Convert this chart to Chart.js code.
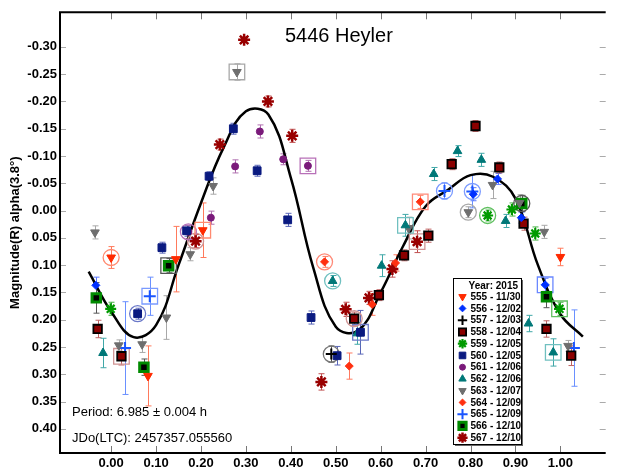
<!DOCTYPE html>
<html>
<head>
<meta charset="utf-8">
<script src="https://cdn.jsdelivr.net/npm/chart.js@4.4.0/dist/chart.umd.min.js"></script>
<style>
  html, body { margin: 0; padding: 0; background: #fff; }
  #wrap { width: 618px; height: 473px; position: relative; }
</style>
</head>
<body>
<div id="wrap"><canvas id="lc"></canvas></div>
<script>
// Curva de luz 5446 Heyler - fase vs magnitud
const chartTitle = '5446 Heyler';
const periodText = 'Period: 6.985 ± 0.004 h';
const epochText = 'JDo(LTC): 2457357.055560';
const legendTitle = 'Year: 2015';
const yTitle = 'Magnitude(R) alpha(3.8°)';

const xTicks = [0.00, 0.10, 0.20, 0.30, 0.40, 0.50, 0.60, 0.70, 0.80, 0.90, 1.00];
const yTicks = [-0.30, -0.25, -0.20, -0.15, -0.10, -0.05, 0.00, 0.05, 0.10, 0.15, 0.20, 0.25, 0.30, 0.35, 0.40];

// curva ajustada (Fourier)
const fitPhase = [-0.05, 0.00, 0.05, 0.10, 0.15, 0.20, 0.25, 0.30, 0.35, 0.40, 0.45, 0.50, 0.55, 0.60, 0.65, 0.70, 0.75, 0.80, 0.85, 0.90, 0.95, 1.00, 1.05];
const fitMag   = [0.112, 0.185, 0.232, 0.210, 0.100, -0.014, -0.115, -0.182, -0.176, -0.060, 0.105, 0.213, 0.220, 0.150, 0.065, -0.008, -0.038, -0.065, -0.062, -0.022, 0.100, 0.190, 0.231];

// sesiones: fase, magnitud, error, marco ('c' circulo, 's' cuadrado)
const phase555 = [0.000, 0.082, 0.144, 0.204, 1.000];
const mag555   = [0.086, 0.303, 0.089, 0.036, 0.085];
const err555   = [0.020, 0.055, 0.060, 0.050, 0.016];
const ring555  = ['c', '', '', 's', ''];

const phase556 = [-0.034, 0.806, 0.860, 0.913, 0.966];
const mag556   = [0.137, -0.030, -0.058, 0.013, 0.136];
const err556   = [0.015, 0.012, 0.010, 0.010, 0.012];
const ring556  = ['', '', '', '', 's'];

const phase557 = [0.490];
const mag557   = [0.263];
const err557   = [0.015];
const ring557  = ['c'];

const phase558 = [-0.030, 0.023, 0.541, 0.596, 0.652, 0.706, 0.758, 0.811, 0.864, 0.918, 0.969, 1.024];
const mag558   = [0.217, 0.267, 0.198, 0.155, 0.082, 0.046, -0.085, -0.155, -0.079, 0.024, 0.217, 0.266];
const err558   = [0.016, 0.016, 0.012, 0.010, 0.010, 0.012, 0.010, 0.010, 0.010, 0.012, 0.015, 0.018];
const ring558  = ['', 's', 'c', '', '', '', '', '', '', '', '', ''];

const phase559 = [-0.001, 0.838, 0.892, 0.944, 0.998];
const mag559   = [0.180, 0.009, -0.002, 0.042, 0.180];
const err559   = [0.012, 0.010, 0.012, 0.012, 0.012];
const ring559  = ['', 'c', '', '', 's'];

const phase560 = [0.059, 0.113, 0.168, 0.218, 0.272, 0.325, 0.393, 0.445, 0.503, 0.555];
const mag560   = [0.189, 0.068, 0.037, -0.063, -0.150, -0.073, 0.017, 0.196, 0.266, 0.223];
const err560   = [0.010, 0.010, 0.010, 0.008, 0.010, 0.010, 0.012, 0.012, 0.017, 0.040];
const ring560  = ['c', '', '', '', '', '', '', '', '', 's'];

const phase561 = [0.172, 0.222, 0.276, 0.331, 0.383, 0.438];
const mag561   = [0.039, 0.013, -0.081, -0.145, -0.094, -0.082];
const err561   = [0.012, 0.012, 0.012, 0.012, 0.010, 0.010];
const ring561  = ['c', '', '', '', '', 's'];

const phase562 = [-0.018, 0.493, 0.548, 0.602, 0.655, 0.718, 0.771, 0.824, 0.878, 0.929, 0.984];
const mag562   = [0.261, 0.129, 0.225, 0.101, 0.027, -0.067, -0.109, -0.093, 0.019, 0.207, 0.260];
const err562   = [0.027, 0.010, 0.020, 0.020, 0.020, 0.012, 0.010, 0.012, 0.012, 0.015, 0.025];
const ring562  = ['', 'c', '', '', 's', '', '', '', '', '', 's'];

const phase563 = [-0.036, 0.017, 0.069, 0.123, 0.176, 0.227, 0.280, 0.662, 0.795, 0.849, 0.909, 0.964, 1.017];
const mag563   = [0.040, 0.247, 0.245, 0.196, 0.080, -0.045, -0.254, 0.032, 0.003, -0.047, -0.014, 0.039, 0.248];
const err563   = [0.012, 0.010, 0.015, 0.040, 0.012, 0.015, 0.015, 0.020, 0.010, 0.025, 0.015, 0.012, 0.010];
const ring563  = ['', '', '', '', '', '', 's', '', 'c', '', '', '', ''];

const phase564 = [0.475, 0.530, 0.581, 0.633, 0.688];
const mag564   = [0.094, 0.285, 0.172, 0.096, -0.016];
const err564   = [0.010, 0.024, 0.020, 0.015, 0.012];
const ring564  = ['c', '', '', '', 's'];

const phase565 = [0.031, 0.086, 0.742, 0.804, 1.030];
const mag565   = [0.252, 0.157, -0.036, -0.035, 0.252];
const err565   = [0.085, 0.035, 0.015, 0.030, 0.070];
const ring565  = ['', 's', 'c', 'c', ''];

const phase566 = [-0.033, 0.073, 0.128, 0.914, 0.969];
const mag566   = [0.160, 0.287, 0.101, -0.013, 0.158];
const err566   = [0.028, 0.015, 0.013, 0.015, 0.020];
const ring566  = ['', '', 's', 'c', ''];

const phase567 = [0.188, 0.242, 0.296, 0.349, 0.403, 0.468, 0.522, 0.574, 0.626, 0.681];
const mag567   = [0.056, -0.121, -0.313, -0.200, -0.137, 0.314, 0.181, 0.160, 0.107, 0.057];
const err567   = [0.012, 0.010, 0.005, 0.010, 0.012, 0.015, 0.013, 0.012, 0.015, 0.020];
const ring567  = ['c', '', '', '', '', '', '', '', '', 's'];

const sessionLabels = ['555 - 11/30', '556 - 12/02', '557 - 12/03', '558 - 12/04', '559 - 12/05', '560 - 12/05', '561 - 12/06',
                       '562 - 12/06', '563 - 12/07', '564 - 12/09', '565 - 12/09', '566 - 12/10', '567 - 12/10'];

// estilos de cada sesion
const series = [
    { phase: phase555, mag: mag555, err: err555, ring: ring555, shape: 'triangle', rot: 180, r: 5, fill: '#ff2a00', line: '#ff2a00', bw: 1, bar: '#ff7a5c', ringC: '#ff8a70' },
    { phase: phase556, mag: mag556, err: err556, ring: ring556, shape: 'rectRot', rot: 0, r: 4, fill: '#0030ff', line: '#0030ff', bw: 1, bar: '#5a78ff', ringC: '#6a88ff' },
    { phase: phase557, mag: mag557, err: err557, ring: ring557, shape: 'cross', rot: 0, r: 5.5, fill: '#000', line: '#000', bw: 2, bar: '#555', ringC: '#777' },
    { phase: phase558, mag: mag558, err: err558, ring: ring558, shape: 'rect', rot: 0, r: 6, fill: '#8b0000', line: '#000', bw: 1.8, bar: '#c06464', ringC: '#d09494' },
    { phase: phase559, mag: mag559, err: err559, ring: ring559, shape: 'star', rot: 0, r: 5.5, fill: '#009a00', line: '#009a00', bw: 2.2, bar: '#45b045', ringC: '#60c060' },
    { phase: phase560, mag: mag560, err: err560, ring: ring560, shape: 'rect', rot: 0, r: 5.5, fill: '#0a1a80', line: '#0a1a80', bw: 1, bar: '#5a66b8', ringC: '#6a78c8' },
    { phase: phase561, mag: mag561, err: err561, ring: ring561, shape: 'circle', rot: 0, r: 3.5, fill: '#7a1a7a', line: '#7a1a7a', bw: 1, bar: '#b070b0', ringC: '#b870b8' },
    { phase: phase562, mag: mag562, err: err562, ring: ring562, shape: 'triangle', rot: 0, r: 5, fill: '#007878', line: '#007878', bw: 1, bar: '#40a8a8', ringC: '#70c0c0' },
    { phase: phase563, mag: mag563, err: err563, ring: ring563, shape: 'triangle', rot: 180, r: 5, fill: '#6e6e6e', line: '#6e6e6e', bw: 1, bar: '#a8a8a8', ringC: '#a8a8a8' },
    { phase: phase564, mag: mag564, err: err564, ring: ring564, shape: 'rectRot', rot: 0, r: 4, fill: '#ff3010', line: '#ff3010', bw: 1, bar: '#ff7a60', ringC: '#ff8a78' },
    { phase: phase565, mag: mag565, err: err565, ring: ring565, shape: 'cross', rot: 0, r: 6, fill: '#1a55ff', line: '#1a55ff', bw: 2, bar: '#6a90ff', ringC: '#7a9aff' },
    { phase: phase566, mag: mag566, err: err566, ring: ring566, shape: 'rect', rot: 0, r: 6, fill: '#000', line: '#008a00', bw: 3, bar: '#555', ringC: '#555' },
    { phase: phase567, mag: mag567, err: err567, ring: ring567, shape: 'star', rot: 0, r: 6, fill: '#990000', line: '#990000', bw: 2.5, bar: '#c05050', ringC: '#d09494' },
];

Chart.defaults.font.family = '"Liberation Sans", Arial, sans-serif';
Chart.defaults.color = '#000';

const datasets = [];

datasets.push({
    type: 'line',
    label: 'fit',
    data: fitPhase.map((p, i) => ({ x: p, y: fitMag[i] })),
    borderColor: '#000',
    borderWidth: 2.5,
    pointRadius: 0,
    fill: false,
    tension: 0.4,
    order: 3,
});

series.forEach((s, k) => {
    // marcos alrededor de algunos puntos
    const ringPts = [];
    const ringStyles = [];
    s.ring.forEach((r, i) => {
        if (r) {
            ringPts.push({ x: s.phase[i], y: s.mag[i] });
            ringStyles.push(r === 'c' ? 'circle' : 'rect');
        }
    });
    datasets.push({
        label: 'ring' + k,
        data: ringPts,
        pointStyle: ringStyles,
        pointRadius: ringStyles.map(st => st === 'circle' ? 8 : 11),
        backgroundColor: 'rgba(255,255,255,0)',
        borderColor: s.ringC,
        borderWidth: 1.3,
        order: 2,
    });
    datasets.push({
        label: sessionLabels[k],
        data: s.phase.map((p, i) => ({ x: p, y: s.mag[i] })),
        pointStyle: s.shape,
        rotation: s.rot,
        pointRadius: s.r,
        backgroundColor: s.fill,
        borderColor: s.line,
        borderWidth: s.bw,
        order: 1,
    });
});

// barras de error
const errorBars = {
    id: 'errorBars',
    beforeDatasetsDraw(chart) {
        const { ctx, scales: { x, y } } = chart;
        ctx.save();
        ctx.lineWidth = 1;
        series.forEach(s => {
            ctx.strokeStyle = s.bar;
            s.phase.forEach((p, i) => {
                const px = Math.round(x.getPixelForValue(p)) + 0.5;
                const y1 = y.getPixelForValue(s.mag[i] - s.err[i]);
                const y2 = y.getPixelForValue(s.mag[i] + s.err[i]);
                ctx.beginPath();
                ctx.moveTo(px, y1); ctx.lineTo(px, y2);
                ctx.moveTo(px - 3, y1); ctx.lineTo(px + 3, y1);
                ctx.moveTo(px - 3, y2); ctx.lineTo(px + 3, y2);
                ctx.stroke();
            });
        });
        ctx.restore();
    }
};

// marco, ticks hacia dentro, textos y leyenda
const decorations = {
    id: 'decorations',
    afterDraw(chart) {
        const { ctx, chartArea: a, scales: { x, y } } = chart;
        ctx.save();

        ctx.strokeStyle = '#777';
        ctx.lineWidth = 1;
        xTicks.forEach(v => {
            const px = Math.round(x.getPixelForValue(v)) + 0.5;
            ctx.beginPath();
            ctx.moveTo(px, a.top); ctx.lineTo(px, a.top + 7);
            ctx.moveTo(px, a.bottom); ctx.lineTo(px, a.bottom - 7);
            ctx.stroke();
        });
        ctx.strokeStyle = '#aaa';
        yTicks.forEach(v => {
            const py = Math.round(y.getPixelForValue(v)) + 0.5;
            ctx.beginPath();
            ctx.moveTo(a.left, py); ctx.lineTo(a.left + 6, py);
            ctx.moveTo(a.right, py); ctx.lineTo(a.right - 6, py);
            ctx.stroke();
        });

        ctx.strokeStyle = '#000';
        ctx.lineWidth = 2;
        ctx.beginPath();
        ctx.moveTo(a.right, a.top); ctx.lineTo(a.left, a.top);
        ctx.lineTo(a.left, a.bottom); ctx.lineTo(a.right, a.bottom);
        ctx.stroke();

        ctx.fillStyle = '#000';
        ctx.textBaseline = 'alphabetic';
        ctx.textAlign = 'left';
        ctx.font = '20px "Liberation Sans", Arial, sans-serif';
        ctx.fillText(chartTitle, 285, 42);
        ctx.font = '13px "Liberation Sans", Arial, sans-serif';
        ctx.fillText(periodText, 72, 416);
        ctx.fillText(epochText, 72, 442);

        // leyenda
        const lx = 453, ly = 278, lw = 68, lh = 166;
        ctx.fillStyle = '#666';
        ctx.fillRect(lx + 2, ly + 2, lw, lh);
        ctx.fillStyle = '#fff';
        ctx.fillRect(lx, ly, lw, lh);
        ctx.strokeStyle = '#000';
        ctx.lineWidth = 1;
        ctx.strokeRect(lx + 0.5, ly + 0.5, lw, lh);

        ctx.fillStyle = '#000';
        ctx.font = 'bold 10px "Liberation Sans", Arial, sans-serif';
        ctx.textAlign = 'right';
        ctx.textBaseline = 'middle';
        ctx.fillText(legendTitle, lx + lw - 3, ly + 8);

        series.forEach((s, k) => {
            const cy = ly + 18.7 + k * 11.75;
            ctx.fillStyle = s.fill;
            ctx.strokeStyle = s.line;
            ctx.lineWidth = s.bw;
            Chart.helpers.drawPoint(ctx, {
                pointStyle: s.shape, rotation: s.rot, radius: s.r * 0.85, borderWidth: s.bw
            }, lx + 9.5, cy);
            ctx.fillStyle = '#000';
            ctx.textAlign = 'left';
            ctx.fillText(sessionLabels[k], lx + 17.5, cy + 0.5);
        });
        ctx.restore();
    }
};

new Chart(document.getElementById('lc'), {
    type: 'scatter',
    data: { datasets: datasets },
    options: {
        responsive: true,
        maintainAspectRatio: false,
        animation: false,
        layout: { padding: { top: 7, right: 0, left: 0, bottom: 0 } },
        plugins: {
            legend: { display: false },
            tooltip: { enabled: false },
        },
        scales: {
            x: {
                type: 'linear',
                min: -0.1138,
                max: 1.1008,
                grid: { display: false, drawTicks: false },
                border: { display: false },
                afterBuildTicks: (s) => { s.ticks = xTicks.map(v => ({ value: v })); },
                afterFit: (s) => { s.height = 20; s.paddingLeft = 0; s.paddingRight = 0; },
                ticks: {
                    padding: 3,
                    maxRotation: 0,
                    autoSkip: false,
                    color: '#000',
                    font: { size: 13, weight: 'bold' },
                    callback: (v) => Number(v).toFixed(2),
                },
            },
            y: {
                type: 'linear',
                reverse: true,
                min: -0.3634,
                max: 0.4443,
                grid: { display: false, drawTicks: false },
                border: { display: false },
                afterBuildTicks: (s) => { s.ticks = yTicks.map(v => ({ value: v })); },
                afterFit: (s) => { s.width = 60; s.paddingTop = 0; s.paddingBottom = 0; },
                title: {
                    display: true,
                    text: yTitle,
                    color: '#000',
                    font: { size: 13, weight: 'bold' },
                    padding: { top: 8, bottom: 0 },
                },
                ticks: {
                    padding: 3,
                    autoSkip: false,
                    color: '#000',
                    font: { size: 13, weight: 'bold' },
                    callback: (v) => Number(v).toFixed(2),
                },
            },
        },
    },
    plugins: [errorBars, decorations],
});
</script>
</body>
</html>
